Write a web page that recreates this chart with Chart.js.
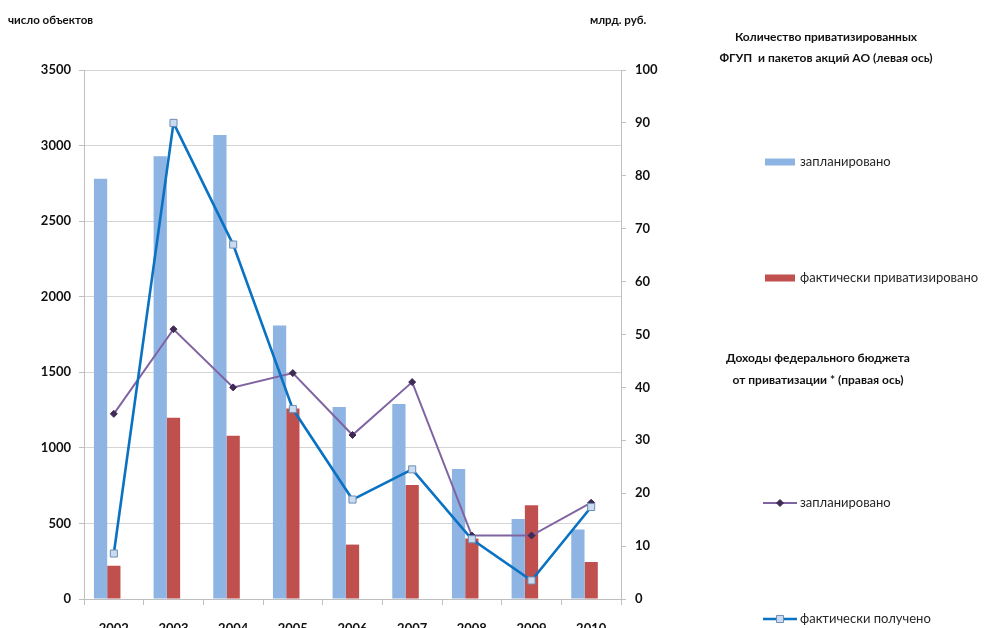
<!DOCTYPE html>
<html>
<head>
<meta charset="utf-8">
<script src="https://cdn.jsdelivr.net/npm/chart.js@4.4.1/dist/chart.umd.min.js"></script>
<style>
  html, body { margin: 0; padding: 0; background: #fff; overflow: hidden; width: 984px; height: 628px; }
  #wrap { position: relative; width: 984px; height: 660px; }
</style>
</head>
<body>
<div id="wrap"><canvas id="c" width="984" height="660"></canvas></div>
<script>
// Privatization of federal unitary enterprises and JSC stakes, 2002-2010
const years = ['2002', '2003', '2004', '2005', '2006', '2007', '2008', '2009', '2010'];

// number of objects (left axis)
const objectsPlanned    = [2780, 2930, 3070, 1810, 1270, 1290, 860, 530, 460];
const objectsPrivatized = [220, 1200, 1080, 1260, 360, 755, 400, 620, 245];

// federal budget revenue, bn rub (right axis)
const revenuePlanned  = [35, 51, 40, 42.7, 31, 41, 12, 12, 18.2];
const revenueReceived = [8.6, 90, 67, 35.9, 18.8, 24.5, 11.3, 3.5, 17.4];

// axis ticks
const leftTicks  = [0, 500, 1000, 1500, 2000, 2500, 3000, 3500];
const rightTicks = [0, 10, 20, 30, 40, 50, 60, 70, 80, 90, 100];

// axis titles and legend group headings
const leftTitle  = 'число объектов';
const rightTitle = 'млрд. руб.';
const headObjects = ['Количество приватизированных', 'ФГУП  и пакетов акций АО (левая ось)'];
const headRevenue = ['Доходы федерального бюджета', 'от приватизации * (правая ось)'];

const FONT = 'Lato, "Liberation Sans", sans-serif';
const GRID = '#D4D4D4';
const AXIS = '#BFBFBF';

// axis titles plus a legend split into two headed groups
const extras = {
  id: 'extras',
  afterDraw(chart) {
    const ctx = chart.ctx;
    const ds = chart.data.datasets;
    ctx.save();
    ctx.fillStyle = '#111';
    ctx.font = 'bold 11.5px ' + FONT;
    ctx.textBaseline = 'middle';
    ctx.textAlign = 'left';
    ctx.fillText(leftTitle, 8, 20);
    ctx.fillText(rightTitle, 590, 20);

    ctx.textAlign = 'center';
    ctx.font = 'bold 12px ' + FONT;
    ctx.fillText(headObjects[0], 826, 37);
    ctx.fillText(headObjects[1], 826, 58);
    ctx.fillText(headRevenue[0], 818, 358);
    ctx.fillText(headRevenue[1], 818, 380);

    const sx = 765, sw = 30, tx = 800;
    ctx.textAlign = 'left';
    ctx.font = '13px ' + FONT;
    const label = (text, y) => { ctx.fillStyle = '#262626'; ctx.fillText(text, tx, y); };
    const barRow = (d, y) => {
      ctx.fillStyle = d.backgroundColor;
      ctx.fillRect(sx, y - 3.5, sw, 7);
      label(d.label, y);
    };
    const lineRow = (d, y) => {
      ctx.save();
      ctx.strokeStyle = d.borderColor;
      ctx.lineWidth = d.borderWidth;
      ctx.beginPath();
      ctx.moveTo(sx - 2, y);
      ctx.lineTo(sx + sw + 2, y);
      ctx.stroke();
      ctx.fillStyle = d.pointBackgroundColor;
      ctx.strokeStyle = d.pointBorderColor;
      ctx.lineWidth = d.pointBorderWidth;
      Chart.helpers.drawPoint(ctx, {
        pointStyle: d.pointStyle, rotation: 0, radius: d.pointRadius, borderWidth: d.pointBorderWidth
      }, sx + sw / 2, y);
      ctx.restore();
      label(d.label, y);
    };
    barRow(ds[2], 162);
    barRow(ds[3], 278);
    lineRow(ds[1], 503);
    lineRow(ds[0], 619);
    ctx.restore();
  }
};

const tickFont = { family: FONT, size: 13, weight: 'bold' };

new Chart(document.getElementById('c'), {
  type: 'bar',
  data: {
    labels: years,
    datasets: [
      {
        type: 'line', label: 'фактически получено', data: revenueReceived, yAxisID: 'y2', order: 0,
        borderColor: '#0A72C2', borderWidth: 2.6, tension: 0,
        pointStyle: 'rect', pointRadius: 5, pointBackgroundColor: '#C9DCF2',
        pointBorderColor: '#6E8DB3', pointBorderWidth: 1
      },
      {
        type: 'line', label: 'запланировано', data: revenuePlanned, yAxisID: 'y2', order: 1,
        borderColor: '#8064A2', borderWidth: 2, tension: 0,
        pointStyle: 'rectRot', pointRadius: 3.5, pointBackgroundColor: '#3E2A55',
        pointBorderColor: '#3E2A55', pointBorderWidth: 1
      },
      { label: 'запланировано', data: objectsPlanned, yAxisID: 'y', order: 2, backgroundColor: '#8EB4E3' },
      { label: 'фактически приватизировано', data: objectsPrivatized, yAxisID: 'y', order: 2, backgroundColor: '#C0504D' },
      // empty third slot in each bar group
      { label: '', data: years.map(() => null), yAxisID: 'y', order: 2, backgroundColor: 'rgba(0,0,0,0)' }
    ]
  },
  options: {
    responsive: false,
    animation: false,
    devicePixelRatio: 1,
    categoryPercentage: 0.667,
    barPercentage: 1,
    layout: { padding: { left: 0, top: 70, right: 303, bottom: 21 } },
    plugins: { legend: { display: false }, tooltip: { enabled: false } },
    scales: {
      x: {
        offset: true,
        grid: { offset: true, drawOnChartArea: false, drawTicks: true, tickLength: 6, color: AXIS },
        border: { color: AXIS },
        ticks: { color: '#111', font: tickFont, padding: 16, maxRotation: 0 },
        afterFit: s => { s.height = 40; }
      },
      y: {
        position: 'left', min: 0, max: 3500,
        afterBuildTicks: s => { s.ticks = leftTicks.map(v => ({ value: v })); },
        grid: { color: GRID, tickLength: 5, tickColor: AXIS },
        border: { color: AXIS },
        ticks: { color: '#111', font: tickFont, padding: 8, callback: v => String(v) },
        afterFit: s => { s.width = 84; }
      },
      y2: {
        position: 'right', min: 0, max: 100,
        afterBuildTicks: s => { s.ticks = rightTicks.map(v => ({ value: v })); },
        grid: { drawOnChartArea: false, tickLength: 5, color: AXIS },
        border: { color: AXIS },
        ticks: { color: '#111', font: tickFont, padding: 9, callback: v => String(v) },
        afterFit: s => { s.width = 60; }
      }
    }
  },
  plugins: [extras]
});
</script>
</body>
</html>
